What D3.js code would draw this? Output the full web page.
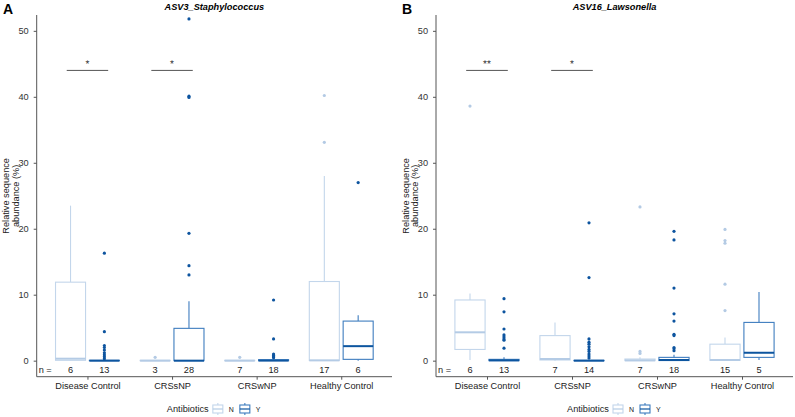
<!DOCTYPE html>
<html>
<head>
<meta charset="utf-8">
<script src="https://cdn.jsdelivr.net/npm/d3@7"></script>
<style>
  body { margin: 0; background: #fff; }
  svg { display: block; font-family: "Liberation Sans", Arial, sans-serif; }
</style>
</head>
<body>
<div id="chart"></div>
<script>
// ---------------- data ----------------
const categories = ["Disease Control", "CRSsNP", "CRSwNP", "Healthy Control"];
const groups = ["N", "Y"];
const yTicks = [0, 10, 20, 30, 40, 50];

// box stats per category: [lowerWhisker, q1, median, q3, upperWhisker]
const staphBoxN = [[0, 0.05, 0.3, 11.9, 23.5], [0, 0, 0, 0.05, 0.1], [0, 0, 0, 0.05, 0.1], [0, 0.02, 0.05, 12.0, 28.0]];
const staphBoxY = [[0, 0, 0, 0.05, 0.1], [0, 0, 0, 4.9, 9.0], [0, 0, 0.02, 0.15, 0.3], [0, 0.2, 2.2, 6.0, 6.9]];
const staphOutN = [[], [0.5], [0.5], [40.2, 33.1]];
const staphOutY = [[16.3, 4.4, 2.3, 2.0, 1.6, 1.2, 0.9, 0.6, 0.3], [51.8, 40.1, 39.9, 19.3, 14.4, 13.0], [9.2, 3.3, 1.0, 0.8, 0.6, 0.45], [27.0]];
const staphCounts = [[6, 13], [3, 28], [7, 18], [17, 6]];
const staphSig = [{cat: 0, label: "*", y: 44}, {cat: 1, label: "*", y: 44}];

const lawsBoxN = [[0.1, 1.7, 4.3, 9.2, 10.2], [0, 0.1, 0.25, 3.8, 5.8], [0, 0, 0.05, 0.25, 0.5], [0, 0.05, 0.1, 2.5, 3.5]];
const lawsBoxY = [[0, 0, 0.05, 0.2, 0.5], [0, 0, 0, 0.05, 0.1], [0, 0.02, 0.1, 0.5, 0.9], [0.1, 0.5, 1.2, 5.8, 10.4]];
const lawsOutN = [[38.6], [], [23.3, 1.4, 1.1], [19.9, 18.2, 17.8, 11.6, 7.6]];
const lawsOutY = [[9.4, 7.4, 4.8, 3.9, 3.6, 3.3, 3.1, 1.9], [20.9, 12.6, 3.3, 2.8, 2.5, 2.1, 1.7, 1.4, 1.0, 0.7, 0.4], [19.6, 18.3, 11.0, 7.1, 6.0, 4.0, 3.8, 2.0, 1.8, 1.5], []];
const lawsCounts = [[6, 13], [7, 14], [7, 18], [15, 5]];
const lawsSig = [{cat: 0, label: "**", y: 44}, {cat: 1, label: "*", y: 44}];

// ---------------- styles ----------------
const colN = {line: "#c3d6eb", median: "#b4cbe5", point: "#b3cae4"};
const colY = {line: "#3f7dbf", median: "#0d559f", point: "#0d549f"};

const W = 795, H = 417;
const svg = d3.select("#chart").append("svg").attr("width", W).attr("height", H);

function drawPanel(opt) {
  const g = svg.append("g");
  const left = opt.left, right = opt.right, top = 15, bottom = 376.7;
  const y = d3.scaleLinear().domain([-2.43, 52.4]).range([bottom, top]);
  const x = d3.scalePoint().domain(categories).range([left, right]).padding(0.6);
  const step = x.step();
  const dodge = d3.scalePoint().domain(groups).range([-0.2 * step, 0.2 * step]);
  const bw = 0.355 * step;

  // panel letter and title
  g.append("text").attr("x", opt.letterX).attr("y", 14).attr("font-size", 14).attr("font-weight", "bold").attr("fill", "#000").text(opt.letter);
  g.append("text").attr("x", (left + right) / 2).attr("y", 10).attr("text-anchor", "middle")
    .attr("font-size", 9.2).attr("font-weight", "bold").attr("font-style", "italic").attr("fill", "#000").text(opt.title);

  // significance
  opt.sig.forEach(s => {
    const cx = x(categories[s.cat]);
    g.append("line").attr("x1", cx - 0.245 * step).attr("x2", cx + 0.245 * step)
      .attr("y1", y(s.y)).attr("y2", y(s.y)).attr("stroke", "#555").attr("stroke-width", 1);
    g.append("text").attr("x", cx).attr("y", y(s.y) - 3.5).attr("text-anchor", "middle")
      .attr("font-size", 10).attr("fill", "#333").style("text-rendering", "geometricPrecision").text(s.label);
  });

  // boxes
  const sets = [{grp: "N", box: opt.boxN, out: opt.outN, col: colN}, {grp: "Y", box: opt.boxY, out: opt.outY, col: colY}];
  sets.forEach(set => {
    categories.forEach((c, i) => {
      const cx = x(c) + dodge(set.grp);
      const [lo, q1, md, q3, hi] = set.box[i];
      const bg = g.append("g");
      bg.append("line").attr("x1", cx).attr("x2", cx).attr("y1", y(q3)).attr("y2", y(hi)).attr("stroke", set.col.line).attr("stroke-width", 1.1);
      bg.append("line").attr("x1", cx).attr("x2", cx).attr("y1", y(q1)).attr("y2", y(lo)).attr("stroke", set.col.line).attr("stroke-width", 1.1);
      bg.append("rect").attr("x", cx - bw / 2).attr("y", y(q3)).attr("width", bw).attr("height", Math.max(0.01, y(q1) - y(q3)))
        .attr("fill", "#fff").attr("stroke", set.col.line).attr("stroke-width", 1.1);
      bg.append("line").attr("x1", cx - bw / 2).attr("x2", cx + bw / 2).attr("y1", y(md)).attr("y2", y(md))
        .attr("stroke", set.col.median).attr("stroke-width", 2);
      set.out[i].forEach(v => {
        bg.append("circle").attr("cx", cx).attr("cy", y(v)).attr("r", 1.6).attr("fill", set.col.point);
      });
    });
  });

  // n labels
  g.append("text").attr("x", left + 2).attr("y", y(-1.4) + 3.3).attr("font-size", 9.2).attr("fill", "#222").text("n =");
  categories.forEach((c, i) => {
    groups.forEach((gr, j) => {
      g.append("text").attr("x", x(c) + dodge(gr)).attr("y", y(-1.4) + 3.3).attr("text-anchor", "middle")
        .attr("font-size", 9.2).attr("fill", "#222").text(opt.counts[i][j]);
    });
  });

  // axes
  const yAxis = d3.axisLeft(y).tickValues(yTicks).tickSize(3).tickPadding(5);
  const ya = g.append("g").attr("transform", `translate(${left},0)`).call(yAxis);
  ya.select(".domain").attr("d", `M0,${top}V${bottom}`).attr("stroke", "#555");
  ya.selectAll(".tick line").attr("stroke", "#555");
  ya.selectAll(".tick text").attr("font-size", 9.2).attr("fill", "#333").attr("font-family", "Liberation Sans, Arial, sans-serif");

  const xAxis = d3.axisBottom(x).tickSize(3).tickPadding(3);
  const xa = g.append("g").attr("transform", `translate(0,${bottom})`).call(xAxis);
  xa.select(".domain").attr("d", `M${left},0H${right}`).attr("stroke", "#555");
  xa.selectAll(".tick line").attr("stroke", "#555");
  xa.selectAll(".tick text").attr("font-size", 9.2).attr("fill", "#222").attr("font-family", "Liberation Sans, Arial, sans-serif");

  // y title
  const ty = (top + bottom) / 2;
  const t = g.append("text").attr("transform", `translate(${left - 27.5},${ty}) rotate(-90)`).attr("text-anchor", "middle")
    .attr("font-size", 9.2).attr("fill", "#222");
  t.append("tspan").attr("x", 0).attr("dy", 0).text("Relative sequence");
  t.append("tspan").attr("x", 0).attr("dy", 9.6).text("abundance (%)");

  // legend
  const lg = g.append("g");
  const lx = (left + right) / 2 - 47.5, ly = 409;
  lg.append("text").attr("x", lx).attr("y", ly + 3.2).attr("font-size", 9.2).attr("fill", "#222").text("Antibiotics");
  [{k: "N", col: colN, x: lx + 46}, {k: "Y", col: colY, x: lx + 73}].forEach(e => {
    const kg = lg.append("g");
    kg.append("line").attr("x1", e.x + 5).attr("x2", e.x + 5).attr("y1", ly - 6).attr("y2", ly + 6).attr("stroke", e.col.line).attr("stroke-width", 1.1);
    kg.append("rect").attr("x", e.x).attr("y", ly - 4).attr("width", 10).attr("height", 8).attr("fill", "#fff").attr("stroke", e.col.line).attr("stroke-width", 1.1);
    kg.append("line").attr("x1", e.x).attr("x2", e.x + 10).attr("y1", ly).attr("y2", ly).attr("stroke", e.col.median).attr("stroke-width", 1.2);
    lg.append("text").attr("x", e.x + 16).attr("y", ly + 2.5).attr("font-size", 7).attr("fill", "#222").text(e.k);
  });
}

drawPanel({left: 36.7, right: 392, letter: "A", letterX: 3, title: "ASV3_Staphylococcus",
  boxN: staphBoxN, boxY: staphBoxY, outN: staphOutN, outY: staphOutY, counts: staphCounts, sig: staphSig});
drawPanel({left: 436, right: 793, letter: "B", letterX: 402, title: "ASV16_Lawsonella",
  boxN: lawsBoxN, boxY: lawsBoxY, outN: lawsOutN, outY: lawsOutY, counts: lawsCounts, sig: lawsSig});
</script>
</body>
</html>
